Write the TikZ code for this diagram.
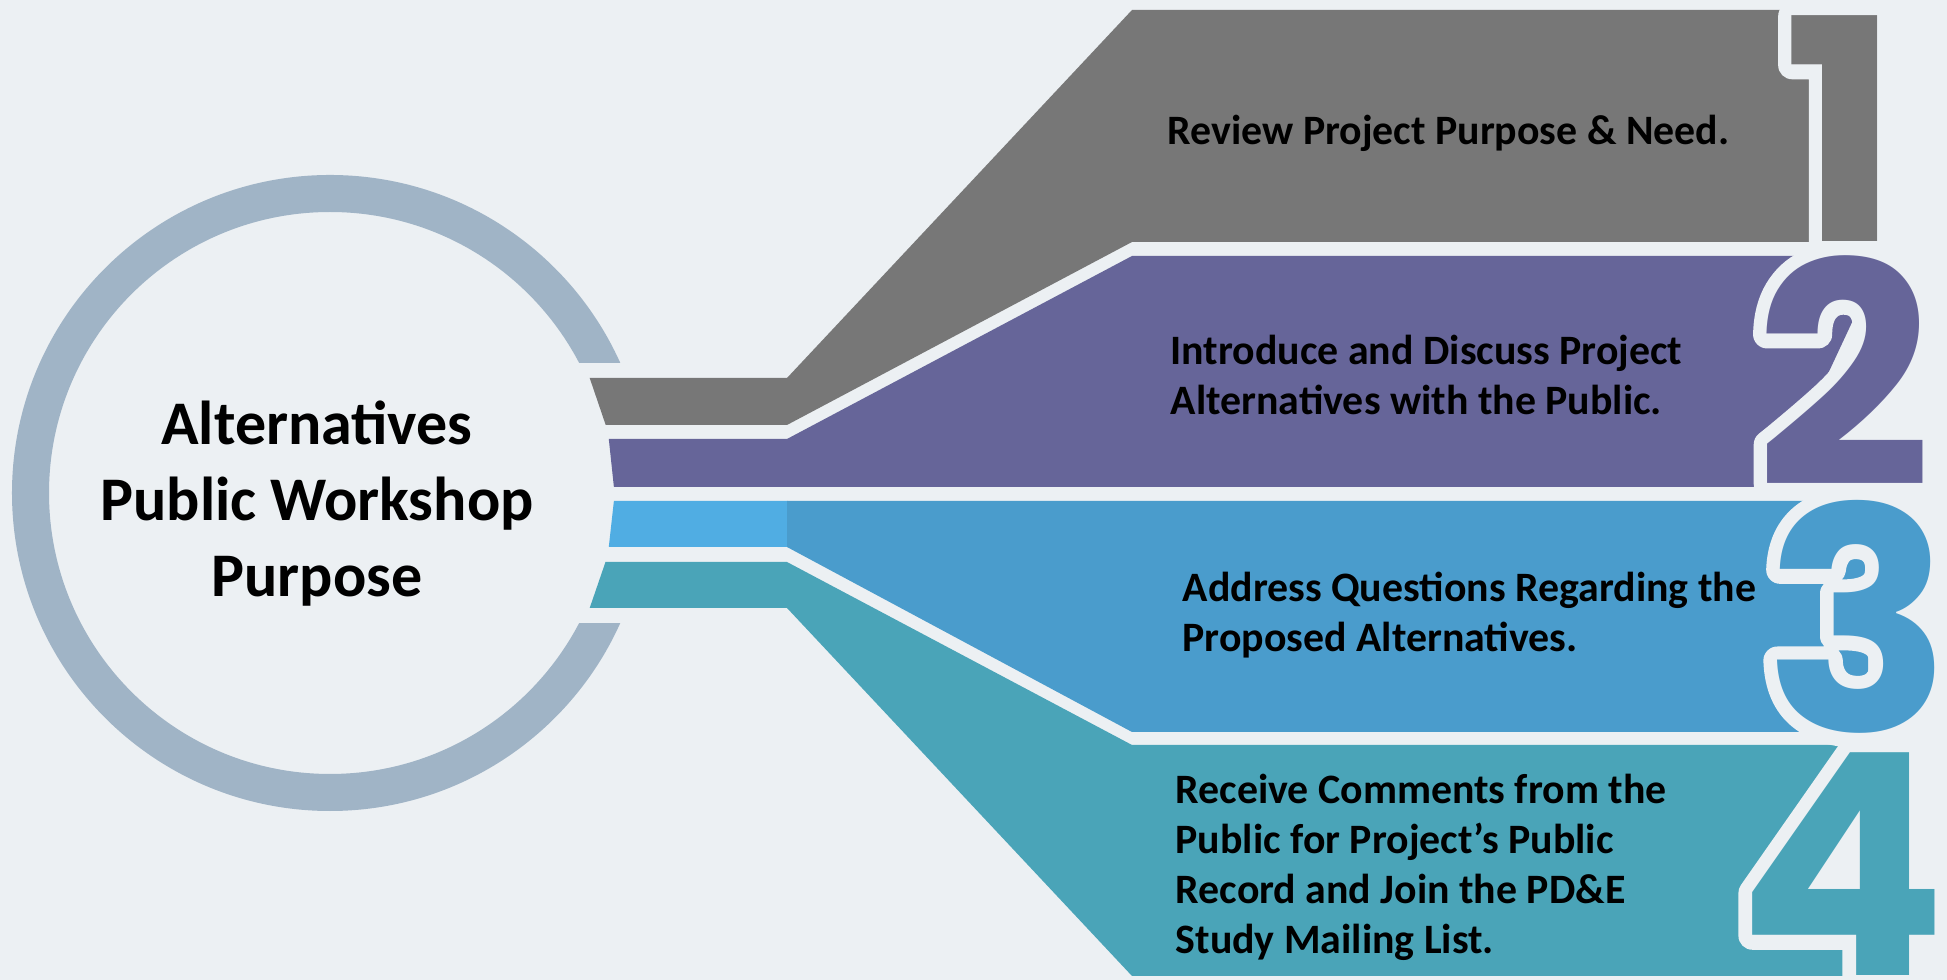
\documentclass[tikz,border=0pt]{standalone}
\usepackage{fontspec}
\setmainfont{Carlito}
\newfontfamily\digitfont{Poppins}

\definecolor{bgcol}{RGB}{236,240,243}
\definecolor{ringcol}{RGB}{160,180,198}
\definecolor{graycol}{RGB}{119,119,119}
\definecolor{purplecol}{RGB}{102,101,153}
\definecolor{bluecol}{RGB}{74,156,204}
\definecolor{bluestub}{RGB}{80,173,227}
\definecolor{tealcol}{RGB}{74,164,184}

\tikzset{
  band text/.style={anchor=west, inner sep=0pt, align=left, text=black,
    font=\fontsize{11.9pt}{14.2pt}\selectfont\bfseries},
  title text/.style={inner sep=0pt, align=center, text=black,
    font=\fontsize{17.64pt}{21.62pt}\selectfont\bfseries},
  big digit/.style={anchor=base, inner sep=0pt,
    font=\digitfont\fontsize{88pt}{88pt}\selectfont\bfseries}
}

% digit with a background coloured rim round it (stroked glyph underneath)
\newcommand{\outlinedigit}[2]{%
  \rlap{\textcolor{bgcol}{\special{pdf:literal direct 2 Tr 7.94 w 1 j}#2\special{pdf:literal direct 0 Tr}}}%
  \textcolor{#1}{#2}%
}

\begin{document}
\begin{tikzpicture}[x=0.01cm, y=-0.01cm]
  \fill[bgcol] (0,0) rectangle (1947,980);
  \useasboundingbox (0,0) rectangle (1947,980);

  \draw[ringcol, line width=0.37cm] (330,493) circle[radius=299.5];
  \fill[bgcol] (560,363) rectangle (680,623);

  \fill[graycol] (589.7,378) -- (787,378) -- (1132,10) -- (1820,10) -- (1820,242)
    -- (1132,242) -- (787,425) -- (605.7,425) -- cycle;
  \fill[purplecol] (608.8,439) -- (787,439) -- (1132,256) -- (1883,256) -- (1783,470)
    -- (1783,487) -- (613.9,487) -- cycle;
  \fill[bluestub] (613.9,501) -- (787.5,501) -- (787.5,547) -- (608.8,547) -- cycle;
  \fill[bluecol] (787,501) -- (1868,501) -- (1868,732) -- (1132,732) -- (787,547) -- cycle;
  \fill[tealcol] (605.5,562) -- (787,562) -- (1132,745) -- (1856,745) -- (1761,885)
    -- (1846,885) -- (1846,976) -- (1132,976) -- (787,608) -- (589.7,608) -- cycle;

  \node[big digit] (num1) at (1842,242) {\outlinedigit{graycol}{1}};
  \node[big digit] (num2) at (1844,487) {\outlinedigit{purplecol}{2}};
  \node[big digit] (num3) at (1858,732) {\outlinedigit{bluecol}{3}};
  \node[big digit] (num4) at (1842,976) {\outlinedigit{tealcol}{4}};

  \node[title text] (title) at (317,504) {Alternatives\\Public Workshop\\Purpose};

  \node[band text] (step1) at (1167,133) {Review Project Purpose \& Need.};
  \node[band text] (step2) at (1170,375) {Introduce and Discuss Project\\Alternatives with the Public.};
  \node[band text] (step3) at (1182,615) {Address Questions Regarding the\\Proposed Alternatives.};
  \node[band text] (step4) at (1175,867) {Receive Comments from the\\Public for Project’s Public\\Record and Join the PD\&E\\Study Mailing List.};
\end{tikzpicture}
\end{document}
